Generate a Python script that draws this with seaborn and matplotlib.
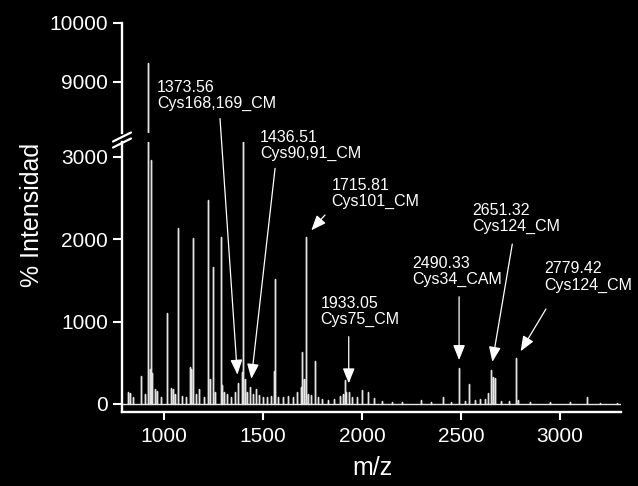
import matplotlib
matplotlib.use("Agg")
import matplotlib.pyplot as plt
import seaborn as sns
import pandas as pd
from matplotlib.lines import Line2D

# MALDI-TOF spectrum: peak positions (m/z) and intensities
peak_mz = [820, 830, 845, 882, 905, 921, 928, 933, 940, 955, 963, 985,
           1017, 1035, 1045, 1055, 1072, 1090, 1110, 1131, 1137, 1145, 1160,
           1178, 1200, 1224, 1230, 1246, 1260, 1288, 1292, 1305, 1320, 1340,
           1358, 1373.56, 1392, 1400, 1408, 1420, 1436.51, 1450, 1465, 1480,
           1500, 1520, 1540, 1555, 1561, 1575, 1600, 1625, 1650, 1670, 1690,
           1698, 1705, 1715.81, 1725, 1740, 1764, 1780, 1800, 1830, 1860,
           1890, 1905, 1914, 1920, 1933.05, 1950, 1975, 2002, 2032, 2060,
           2100, 2150, 2200, 2296, 2350, 2411, 2450, 2490.33, 2520, 2542,
           2570, 2597, 2620, 2638, 2651.32, 2660, 2672, 2700, 2740, 2779.42,
           2790, 2850, 2950, 3050, 3138, 3200, 3290]
peak_int = [140, 130, 90, 345, 120, 9320, 420, 2960, 380, 180, 160, 90,
            1100, 190, 180, 120, 2130, 100, 80, 450, 430, 2010, 120,
            180, 90, 2470, 300, 1665, 150, 2020, 230, 150, 120, 90,
            150, 255, 390, 3500, 300, 150, 205, 120, 185, 110,
            80, 90, 100, 400, 1520, 90, 80, 100, 90, 140, 200,
            635, 300, 2030, 120, 110, 525, 80, 60, 50, 60,
            100, 120, 290, 150, 150, 90, 80, 170, 145, 70,
            40, 30, 25, 50, 25, 90, 30, 432, 40, 242,
            50, 60, 60, 130, 412, 330, 310, 40, 40, 553,
            50, 25, 20, 20, 80, 15, 15]

# Labelled peaks
ann_mz = [1373.56, 1436.51, 1715.81, 1933.05, 2490.33, 2651.32, 2779.42]
ann_name = ["Cys168,169_CM", "Cys90,91_CM", "Cys101_CM", "Cys75_CM",
            "Cys34_CAM", "Cys124_CM", "Cys124_CM"]

# Label placement (text corner and arrow tail) in lower-panel data units
label_pos = [(965, 3930), (1485, 3320), (1847, 2740), (1791, 1310),
             (2256, 1800), (2559, 2436), (2921, 1730)]
arrow_tail = [(1283, 3460), (1561, 2857), (1813, 2291), (1933.05, 816),
              (2490.33, 1300), (2759, 1939), (2929, 1151)]

lower_ticks = [0, 1000, 2000, 3000]
upper_ticks = [9000, 10000]
x_ticks = [1000, 1500, 2000, 2500, 3000]
x_range = (788, 3308)

# Stick trace: baseline -> apex -> baseline for each peak
rows = [(x_range[0], 0)]
for m, h in sorted(zip(peak_mz, peak_int)):
    rows += [(m, 0), (m, h), (m, 0)]
rows.append((x_range[1], 0))
spec = pd.DataFrame(rows, columns=["mz", "intensity"])

sns.set_style("dark")
plt.rcParams["font.family"] = ["Liberation Sans", "DejaVu Sans"]
plt.rcParams["axes.unicode_minus"] = False

fig = plt.figure(figsize=(6.38, 4.86), dpi=100, facecolor="black")
W, H = 638, 486
left, right = 122 / W, 621 / W
ax_hi = fig.add_axes([left, 1 - 133 / H, right - left, (133 - 22.7) / H])
ax_lo = fig.add_axes([left, 1 - 412 / H, right - left, (412 - 142) / H])

fg = "white"
for ax in (ax_hi, ax_lo):
    ax.set_facecolor("black")
    sns.lineplot(data=spec, x="mz", y="intensity", ax=ax, sort=False,
                 estimator=None, color="#e4e4e4", lw=1.0, legend=False)
    ax.set_xlim(*x_range)
    ax.grid(False)
    ax.set_xlabel("")
    ax.set_ylabel("")
    for s in ("top", "right"):
        ax.spines[s].set_visible(False)
    ax.spines["left"].set_color(fg)
    ax.spines["left"].set_linewidth(1.7)
    ax.tick_params(axis="y", colors=fg, labelsize=15, length=6.5, width=1.5,
                   pad=3.5, left=True)

ax_hi.set_ylim(8130, 10000)
ax_hi.set_yticks(upper_ticks)
ax_hi.spines["bottom"].set_visible(False)
ax_hi.set_xticks([])

ax_lo.set_ylim(-97, 3176)
ax_lo.set_yticks(lower_ticks)
ax_lo.set_xticks(x_ticks)
ax_lo.spines["bottom"].set_color(fg)
ax_lo.spines["bottom"].set_linewidth(1.7)
ax_lo.tick_params(axis="x", colors=fg, labelsize=15, length=6, width=1.5,
                  pad=5, bottom=True)

# Axis break marks on the y axis
for yc in (137, 143):
    fig.add_artist(Line2D([(left * W - 9) / W, (left * W + 9) / W],
                          [1 - (yc + 4.5) / H, 1 - (yc - 4.5) / H],
                          color=fg, lw=1.6, transform=fig.transFigure))

# Peak labels with arrows
height = dict(zip(peak_mz, peak_int))
for m, name, (tx, ty), (ax_x, ax_y) in zip(ann_mz, ann_name, label_pos, arrow_tail):
    ax_lo.text(tx, ty, f"{m:.2f}\n{name}", color=fg, fontsize=11.5,
               ha="left", va="top", linespacing=1.1, clip_on=False)
    ax_lo.annotate("", xy=(m, height[m]), xytext=(ax_x, ax_y),
                   annotation_clip=False,
                   arrowprops=dict(arrowstyle="-|>,head_length=0.7,head_width=0.28",
                                   color=fg, lw=0.9, shrinkA=0, shrinkB=6,
                                   mutation_scale=13))

fig.text(32 / W, 1 - 215 / H, "% Intensidad", color=fg, fontsize=18,
         rotation=90, ha="center", va="center")
fig.text(372 / W, 1 - 468 / H, "m/z", color=fg, fontsize=18,
         ha="center", va="center")

fig.savefig("out.png", dpi=100, facecolor="black")
